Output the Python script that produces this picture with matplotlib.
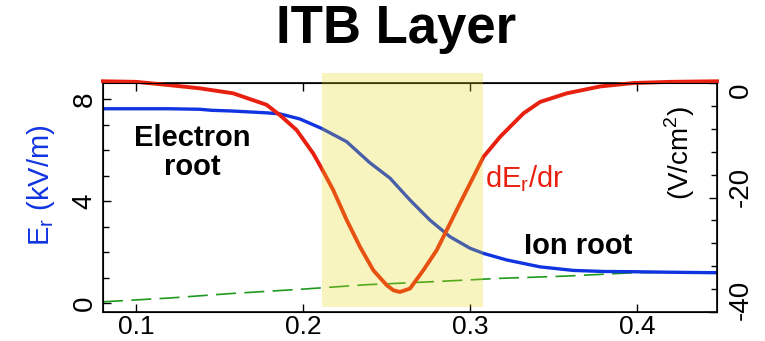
import matplotlib
matplotlib.use("Agg")
import matplotlib.pyplot as plt
from matplotlib.transforms import ScaledTranslation

plt.rcParams['font.family'] = ['Liberation Sans', 'DejaVu Sans']
plt.rcParams['axes.unicode_minus'] = False

# normalised radius (r/a) and E_r profile (kV/m), left axis
x_er = [0.080, 0.100, 0.120, 0.138, 0.145, 0.158, 0.178, 0.186, 0.198, 0.211,
        0.226, 0.240, 0.252, 0.264, 0.276, 0.288, 0.300, 0.308, 0.322, 0.342,
        0.362, 0.380, 0.398, 0.420, 0.448]
er = [7.62, 7.62, 7.62, 7.60, 7.56, 7.53, 7.46, 7.42, 7.22, 6.85,
      6.33, 5.50, 4.90, 4.04, 3.25, 2.60, 2.15, 1.95, 1.69, 1.42,
      1.28, 1.24, 1.23, 1.21, 1.19]

# dE_r/dr (V/cm^2), right axis
x_der = [0.080, 0.100, 0.119, 0.138, 0.158, 0.178, 0.186, 0.196, 0.206, 0.211,
         0.218, 0.226, 0.234, 0.242, 0.250, 0.254, 0.258, 0.264, 0.272, 0.280,
         0.286, 0.294, 0.302, 0.308, 0.318, 0.332, 0.342, 0.358, 0.378, 0.398,
         0.420, 0.448]
der = [0.3, 0.2, -0.35, -0.93, -1.8, -3.8, -5.6, -8.2, -12.3, -14.9,
       -18.7, -23.9, -28.6, -32.7, -35.3, -36.2, -36.5, -35.9, -32.7, -29.2,
       -25.7, -21.0, -16.4, -12.9, -9.4, -5.3, -3.3, -1.8, -0.6, 0.0,
       0.2, 0.3]

# dashed reference curve (left axis)
x_ref = [0.080, 0.120, 0.158, 0.198, 0.238, 0.278, 0.318, 0.358, 0.398, 0.448]
er_ref = [0.05, 0.20, 0.38, 0.54, 0.72, 0.84, 0.97, 1.06, 1.19, 1.23]

itb_range = (0.211, 0.308)
right_ticks = [0, -20, -40]

blue = '#1034e0'
red = '#e82010'

fig = plt.figure(figsize=(7.65, 3.41), dpi=100)
ax = fig.add_axes([0.1346, 0.085, 0.8027, 0.6716])
ax2 = ax.twinx()

ax.plot(x_ref, er_ref, color='#1f9a1f', lw=1.2, dashes=(12, 5))
ax.plot(x_er, er, color=blue, lw=2.4)
ax2.plot(x_der, der, color=red, lw=2.8, clip_on=False, zorder=2)

# ITB shading laid over the curves
ax2.axvspan(itb_range[0], itb_range[1], ymin=0.02, ymax=1.044,
            color='#e5d716', alpha=0.27, lw=0, zorder=5, clip_on=False)

ax.set_xlim(0.08, 0.448)
ax.set_ylim(-0.35, 8.63)
ax2.set_ylim(-40, 0)

ax.set_xticks([0.1, 0.2, 0.3, 0.4])
ax.set_yticks([0, 4, 8])
ax.set_yticks(range(0, 9), minor=True)
ax2.set_yticks(right_ticks)
ax2.set_yticks(range(-40, 1, 4), minor=True)

ax.tick_params(direction='in', top=True, right=False, labelsize=19,
               length=6, width=1)
ax.tick_params(axis='x', pad=2)
ax.tick_params(axis='y', which='minor', direction='in', length=4, width=1)
ax.tick_params(axis='y', pad=4, labelsize=20)
ax2.tick_params(direction='in', length=6, width=1, labelright=False)
ax2.tick_params(axis='y', which='minor', direction='in', length=4, width=1)
for lab in ax.get_yticklabels():
    lab.set_rotation(90)
    lab.set_va('center')

# right-hand labels, nudged like in the original figure
nudges = [-5, 7.5, 8.6]
for val, dy in zip(right_ticks, nudges):
    tr = ax2.get_yaxis_transform() + ScaledTranslation(0, dy / 72, fig.dpi_scale_trans)
    ax2.text(1.018, val, str(val), fontsize=20, rotation=90,
             ha='left', va='center', transform=tr)

for sp in ax.spines.values():
    sp.set_linewidth(1.2)

ax.set_ylabel('E$_\\mathregular{r}$ (kV/m)', color=blue, fontsize=21)
ax.yaxis.set_label_coords(-0.075, 0.555)

ax.text(0.1335, 5.92, 'Electron\nroot', fontsize=21, fontweight='bold',
        ha='center', va='center', linespacing=1.05)
ax.text(0.3647, 2.24, 'Ion root', fontsize=21, fontweight='bold',
        ha='center', va='center')
ax.text(0.309, 4.55, 'dE$_\\mathregular{r}$/dr', fontsize=21, color=red,
        ha='left', va='baseline')
ax.text(0.94, 0.694, '(V/cm$^\\mathregular{2}$)', fontsize=20, rotation=90,
        ha='center', va='center', transform=ax.transAxes)

fig.text(0.518, 0.915, 'ITB Layer', fontsize=38, fontweight='bold',
         ha='center', va='center')

fig.savefig('out.png', dpi=100)
